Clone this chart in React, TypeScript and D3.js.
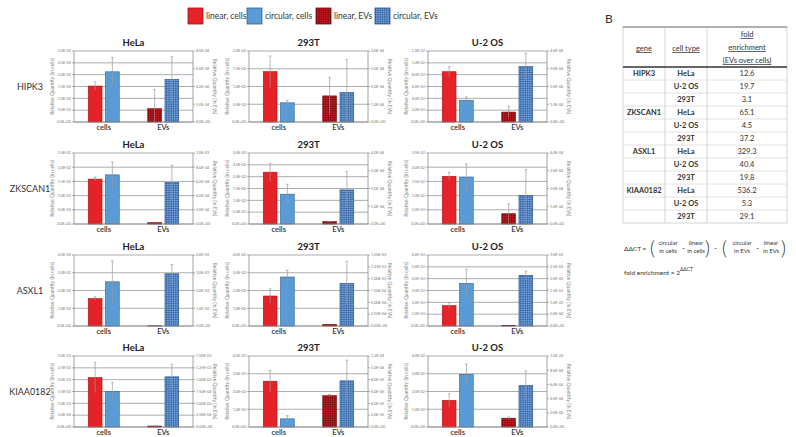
import React from "react";
import * as d3 from "d3";

const genes = ["HIPK3", "ZKSCAN1", "ASXL1", "KIAA0182"];
const cellLines = ["HeLa", "293T", "U-2 OS"];
const groups = ["cells", "EVs"];
const seriesNames = ["linear, cells", "circular, cells", "linear, EVs", "circular, EVs"];

// values [gene][cellLine]
const linearCells = [
  [1.52e-2, 1.42e-2, 8.5e-3],
  [1.58e-2, 2.19e-2, 1.68e-2],
  [1.54e-2, 1.69e-2, 1.72e-3],
  [2.09e-3, 2.58e-3, 1.5e-2],
];
const linearCellsErr = [
  [0.18e-2, 0.44e-2, 0.86e-3],
  [0.07e-2, 0.38e-2, 0.14e-2],
  [0.1e-2, 0.4e-2, 0.26e-3],
  [0.64e-3, 0.6e-3, 0.37e-2],
];
const circularCells = [
  [2.12e-2, 0.54e-2, 3.68e-3],
  [1.73e-2, 1.26e-2, 1.655e-2],
  [2.49e-2, 2.76e-2, 3.6e-3],
  [1.5e-3, 0.46e-3, 2.97e-2],
];
const circularCellsErr = [
  [0.6e-2, 0.07e-2, 0.57e-3],
  [0.45e-2, 0.42e-2, 0.46e-2],
  [1.18e-2, 0.38e-2, 1.2e-3],
  [0.38e-3, 0.18e-3, 0.57e-2],
];
const linearEVs = [
  [1.5e-4, 1.47e-4, 0.56e-4],
  [1.9e-5, 0.13e-4, 0.58e-4],
  [1e-5, 0.35e-4, 0.3e-4],
  [0.21e-4, 0.53e-4, 1.24e-4],
];
const linearEVsErr = [
  [2.15e-4, 1.03e-4, 0.32e-4],
  [0, 0.02e-4, 0.55e-4],
  [0, 0, 0],
  [0, 0.02e-4, 0.16e-4],
];
const circularEVs = [
  [4.8e-4, 1.66e-4, 3.12e-4],
  [5.85e-4, 1.92e-4, 1.6e-4],
  [2.94e-3, 0.9e-3, 2.14e-3],
  [1.06e-3, 0.78e-4, 5.83e-4],
];
const circularEVsErr = [
  [2.55e-4, 1.86e-4, 0.75e-4],
  [0.24e-3, 1.04e-4, 1.46e-4],
  [0.52e-3, 0.465e-3, 0.17e-3],
  [0.27e-3, 0.35e-4, 2.07e-4],
];
const leftMax = [
  [3e-2, 2e-2, 1.2e-2],
  [2.5e-2, 3e-2, 2.5e-2],
  [4e-2, 4e-2, 6e-3],
  [3e-3, 4e-3, 4e-2],
];
const leftStep = [
  [5e-3, 5e-3, 2e-3],
  [5e-3, 5e-3, 5e-3],
  [1e-2, 1e-2, 1e-3],
  [5e-4, 1e-3, 1e-2],
];
const rightMax = [
  [8e-4, 4e-4, 4e-4],
  [1e-3, 4e-4, 4e-4],
  [4e-3, 1.5e-3, 3e-3],
  [1.5e-3, 1.2e-4, 1e-3],
];
const rightStep = [
  [2e-4, 1e-4, 1e-4],
  [2e-4, 1e-4, 1e-4],
  [1e-3, 2.5e-4, 5e-4],
  [2.5e-4, 2e-5, 2e-4],
];

const tableGene = ["HIPK3", "", "", "ZKSCAN1", "", "", "ASXL1", "", "", "KIAA0182", "", ""];
const tableCell = ["HeLa", "U-2 OS", "293T", "HeLa", "U-2 OS", "293T", "HeLa", "U-2 OS", "293T", "HeLa", "U-2 OS", "293T"];
const tableFold = ["12.6", "19.7", "3.1", "65.1", "4.5", "37.2", "329.3", "40.4", "19.8", "536.2", "5.3", "29.1"];

const FONT = "Lato, 'Open Sans', sans-serif";
const RED = "#e42227";
const BLUE = "#5b9bd5";

function fmtE(v: number, d: number) {
  if (v === 0) return (0).toFixed(d) + "E+00";
  const e = Math.floor(Math.log10(Math.abs(v)) + 1e-9);
  const m = v / Math.pow(10, e);
  return m.toFixed(d) + "E" + (e < 0 ? "-" : "+") + String(Math.abs(e)).padStart(2, "0");
}
function decimalsFor(ticks: number[]) {
  let d = 1;
  ticks.forEach((t) => {
    if (t === 0) return;
    const e = Math.floor(Math.log10(Math.abs(t)) + 1e-9);
    const m = t / Math.pow(10, e);
    if (Math.abs(m * 10 - Math.round(m * 10)) > 1e-6) d = 2;
  });
  return d;
}

const colLeft = [74, 249, 428];
const rowTop = [51, 153, 255, 356];
const PW = 119;
const PH = 71;

function Panel({ g, c }: { g: number; c: number }) {
  const x0 = colLeft[c];
  const y0 = rowTop[g];
  const yL = d3.scaleLinear().domain([0, leftMax[g][c]]).range([PH, 0]);
  const yR = d3.scaleLinear().domain([0, rightMax[g][c]]).range([PH, 0]);
  const lTicks = d3.range(0, leftMax[g][c] + leftStep[g][c] / 2, leftStep[g][c]);
  const rTicks = d3.range(0, rightMax[g][c] + rightStep[g][c] / 2, rightStep[g][c]);
  const ld = decimalsFor(lTicks);
  const rd = decimalsFor(rTicks);
  const xG = d3.scaleBand<string>().domain(groups).range([0, PW]).padding(0);
  const xS = d3.scaleBand<number>().domain([0, 1]).range([-15.5, 15.5]).paddingInner(0.2).paddingOuter(0);
  const bars = [
    { grp: "cells", i: 0, v: linearCells[g][c], e: linearCellsErr[g][c], y: yL, fill: RED, stroke: "#a3161b" },
    { grp: "cells", i: 1, v: circularCells[g][c], e: circularCellsErr[g][c], y: yL, fill: BLUE, stroke: "#2f6096" },
    { grp: "EVs", i: 0, v: linearEVs[g][c], e: linearEVsErr[g][c], y: yR, fill: "url(#hatchRed)", stroke: "#6d0d10" },
    { grp: "EVs", i: 1, v: circularEVs[g][c], e: circularEVsErr[g][c], y: yR, fill: "url(#hatchBlue)", stroke: "#24508a" },
  ];
  return (
    <g transform={`translate(${x0},${y0})`}>
      <text x={PW / 2} y={-5} textAnchor="middle" fontSize={9.5} fontWeight={700} fill="#222" fontFamily={FONT}>
        {cellLines[c]}
      </text>
      {lTicks.map((t, i) => (
        <g key={"l" + i}>
          <line x1={0} x2={PW} y1={yL(t)} y2={yL(t)} stroke="#8a8a8a" strokeWidth={0.7} />
          <line x1={-2} x2={0} y1={yL(t)} y2={yL(t)} stroke="#8a8a8a" strokeWidth={0.7} />
          <text x={-3} y={yL(t)} dy="0.35em" textAnchor="end" fontSize={3.8} fill="#777" fontFamily={FONT}>
            {fmtE(t, ld)}
          </text>
        </g>
      ))}
      {rTicks.map((t, i) => (
        <g key={"r" + i}>
          <line x1={PW} x2={PW + 2} y1={yR(t)} y2={yR(t)} stroke="#8a8a8a" strokeWidth={0.7} />
          <text x={PW + 3} y={yR(t)} dy="0.35em" textAnchor="start" fontSize={3.8} fill="#777" fontFamily={FONT}>
            {fmtE(t, rd)}
          </text>
        </g>
      ))}
      <line x1={0} x2={0} y1={0} y2={PH} stroke="#8a8a8a" strokeWidth={0.8} />
      <line x1={PW} x2={PW} y1={0} y2={PH} stroke="#8a8a8a" strokeWidth={0.8} />
      <text transform={`translate(${-20},${PH / 2}) rotate(-90)`} textAnchor="middle" fontSize={5} fill="#888" fontFamily={FONT}>
        Relative Quantity (in cells)
      </text>
      <text transform={`translate(${PW + 20},${PH / 2}) rotate(90)`} textAnchor="middle" fontSize={5} fill="#888" fontFamily={FONT}>
        Relative Quantity (in EVs)
      </text>
      {bars.map((b, i) => {
        const cx = (xG(b.grp) as number) + xG.bandwidth() / 2;
        const bx = cx + (xS(b.i) as number);
        const bw = xS.bandwidth();
        const top = b.y(b.v);
        const ex = bx + bw / 2;
        return (
          <g key={"b" + i}>
            <rect x={bx} y={top} width={bw} height={PH - top} fill={b.fill} stroke={b.stroke} strokeWidth={0.6} />
            {b.e > 0 && (
              <g stroke="#999" strokeWidth={0.7}>
                <line x1={ex} x2={ex} y1={b.y(b.v + b.e)} y2={b.y(Math.max(0, b.v - b.e))} />
                <line x1={ex - 1.3} x2={ex + 1.3} y1={b.y(b.v + b.e)} y2={b.y(b.v + b.e)} />
              </g>
            )}
          </g>
        );
      })}
      <line x1={0} x2={PW} y1={PH} y2={PH} stroke="#8a8a8a" strokeWidth={0.8} />
      {groups.map((gr) => (
        <text key={gr} x={(xG(gr) as number) + xG.bandwidth() / 2} y={PH + 8} textAnchor="middle" fontSize={7.5} fontWeight={600} fill="#333" fontFamily={FONT}>
          {gr}
        </text>
      ))}
    </g>
  );
}

function Legend() {
  const items = [
    { x: 188, fill: RED, stroke: "#a3161b" },
    { x: 247, fill: BLUE, stroke: "#2f6096" },
    { x: 316, fill: "url(#hatchRed)", stroke: "#6d0d10" },
    { x: 375, fill: "url(#hatchBlue)", stroke: "#24508a" },
  ];
  return (
    <g>
      {items.map((it, i) => (
        <g key={i}>
          <rect x={it.x} y={8} width={15} height={16} fill={it.fill} stroke={it.stroke} strokeWidth={0.8} />
          <text x={it.x + 18} y={16} dy="0.35em" fontSize={8.5} fill="#333" fontFamily={FONT}>
            {seriesNames[i]}
          </text>
        </g>
      ))}
    </g>
  );
}

function Table() {
  const L = 623, R = 787, c1 = 665, c2 = 707;
  const top = 27, hb = 67, rh = 13;
  const rows = tableCell.length;
  const bottom = hb + rows * rh;
  return (
    <g fontFamily={FONT} fill="#333">
      <text x={605} y={23} fontSize={12} fill="#333">B</text>
      <rect x={L} y={top} width={R - L} height={bottom - top} fill="none" stroke="#c8c8c8" strokeWidth={0.8} />
      <line x1={L} x2={R} y1={top} y2={top} stroke="#555" strokeWidth={0.8} />
      <line x1={c1} x2={c1} y1={top} y2={bottom} stroke="#c8c8c8" strokeWidth={0.8} />
      <line x1={c2} x2={c2} y1={top} y2={bottom} stroke="#c8c8c8" strokeWidth={0.8} />
      <text x={(L + c1) / 2} y={51} textAnchor="middle" fontSize={7.5} textDecoration="underline">gene</text>
      <text x={(c1 + c2) / 2} y={51} textAnchor="middle" fontSize={7.5} textDecoration="underline">cell type</text>
      <text x={(c2 + R) / 2} y={37} textAnchor="middle" fontSize={7.5} textDecoration="underline">fold</text>
      <text x={(c2 + R) / 2} y={50} textAnchor="middle" fontSize={7.5} textDecoration="underline">enrichment</text>
      <text x={(c2 + R) / 2} y={63} textAnchor="middle" fontSize={7.5} textDecoration="underline">(EVs over cells)</text>
      {tableCell.map((ct, i) => {
        const yc = hb + i * rh + rh / 2;
        return (
          <g key={i}>
            {i > 0 && <line x1={L} x2={R} y1={hb + i * rh} y2={hb + i * rh} stroke="#dadada" strokeWidth={0.8} />}
            <text x={(L + c1) / 2} y={yc} dy="0.35em" textAnchor="middle" fontSize={7.5} fontWeight={700}>{tableGene[i]}</text>
            <text x={(c1 + c2) / 2} y={yc} dy="0.35em" textAnchor="middle" fontSize={7.5} fontWeight={700}>{ct}</text>
            <text x={(c2 + R) / 2} y={yc} dy="0.35em" textAnchor="middle" fontSize={7.5}>{tableFold[i]}</text>
          </g>
        );
      })}
      <line x1={L} x2={R} y1={hb} y2={hb} stroke="#333" strokeWidth={1.5} />
    </g>
  );
}

function Formula() {
  const fs = 6;
  const frac = (x: number, a: string, b: string) => (
    <g>
      <text x={x} y={245} textAnchor="middle" fontSize={fs}>{a}</text>
      <text x={x} y={253} textAnchor="middle" fontSize={fs}>{b}</text>
    </g>
  );
  return (
    <g fontFamily={FONT} fill="#333">
      <text x={624} y={250.5} fontSize={6.5}>ΔΔCT =</text>
      <text x={650} y={255} fontSize={19} fontWeight={300}>(</text>
      {frac(668, "circular", "in cells")}
      <text x={682} y={251} fontSize={8}>-</text>
      {frac(696, "linear", "in cells")}
      <text x={705} y={255} fontSize={19} fontWeight={300}>)</text>
      <text x={714} y={251} fontSize={8}>-</text>
      <text x={722} y={255} fontSize={19} fontWeight={300}>(</text>
      {frac(742, "circular", "in EVs")}
      <text x={756} y={251} fontSize={8}>-</text>
      {frac(771, "linear", "in EVs")}
      <text x={781} y={255} fontSize={19} fontWeight={300}>)</text>
      <text x={624} y={275} fontSize={6.5}>
        fold  enrichment =  2<tspan dy={-4} fontSize={5}>ΔΔCT</tspan>
      </text>
    </g>
  );
}

export default function App() {
  return (
    <svg width={796} height={437} style={{ position: "absolute", left: 0, top: 0, background: "#fff" }}>
      <defs>
        <pattern id="hatchRed" width={3.2} height={3.2} patternUnits="userSpaceOnUse" patternTransform="rotate(45)">
          <rect width={3.2} height={3.2} fill="#cc1a20" />
          <rect width={1.6} height={1.6} fill="#7a0c10" />
          <rect x={1.6} y={1.6} width={1.6} height={1.6} fill="#7a0c10" />
        </pattern>
        <pattern id="hatchBlue" width={3.2} height={3.2} patternUnits="userSpaceOnUse" patternTransform="rotate(45)">
          <rect width={3.2} height={3.2} fill="#6f9fd8" />
          <rect width={1.6} height={1.6} fill="#3a68a6" />
          <rect x={1.6} y={1.6} width={1.6} height={1.6} fill="#3a68a6" />
        </pattern>
      </defs>
      <rect width={796} height={437} fill="#fff" />
      <Legend />
      {genes.map((gn, g) => (
        <text key={gn} x={30} y={rowTop[g] + PH / 2} dy="0.35em" textAnchor="middle" fontSize={9} fill="#333" fontFamily={FONT}>
          {gn}
        </text>
      ))}
      {genes.map((_, g) => cellLines.map((__, c) => <Panel key={g + "-" + c} g={g} c={c} />))}
      <Table />
      <Formula />
    </svg>
  );
}
